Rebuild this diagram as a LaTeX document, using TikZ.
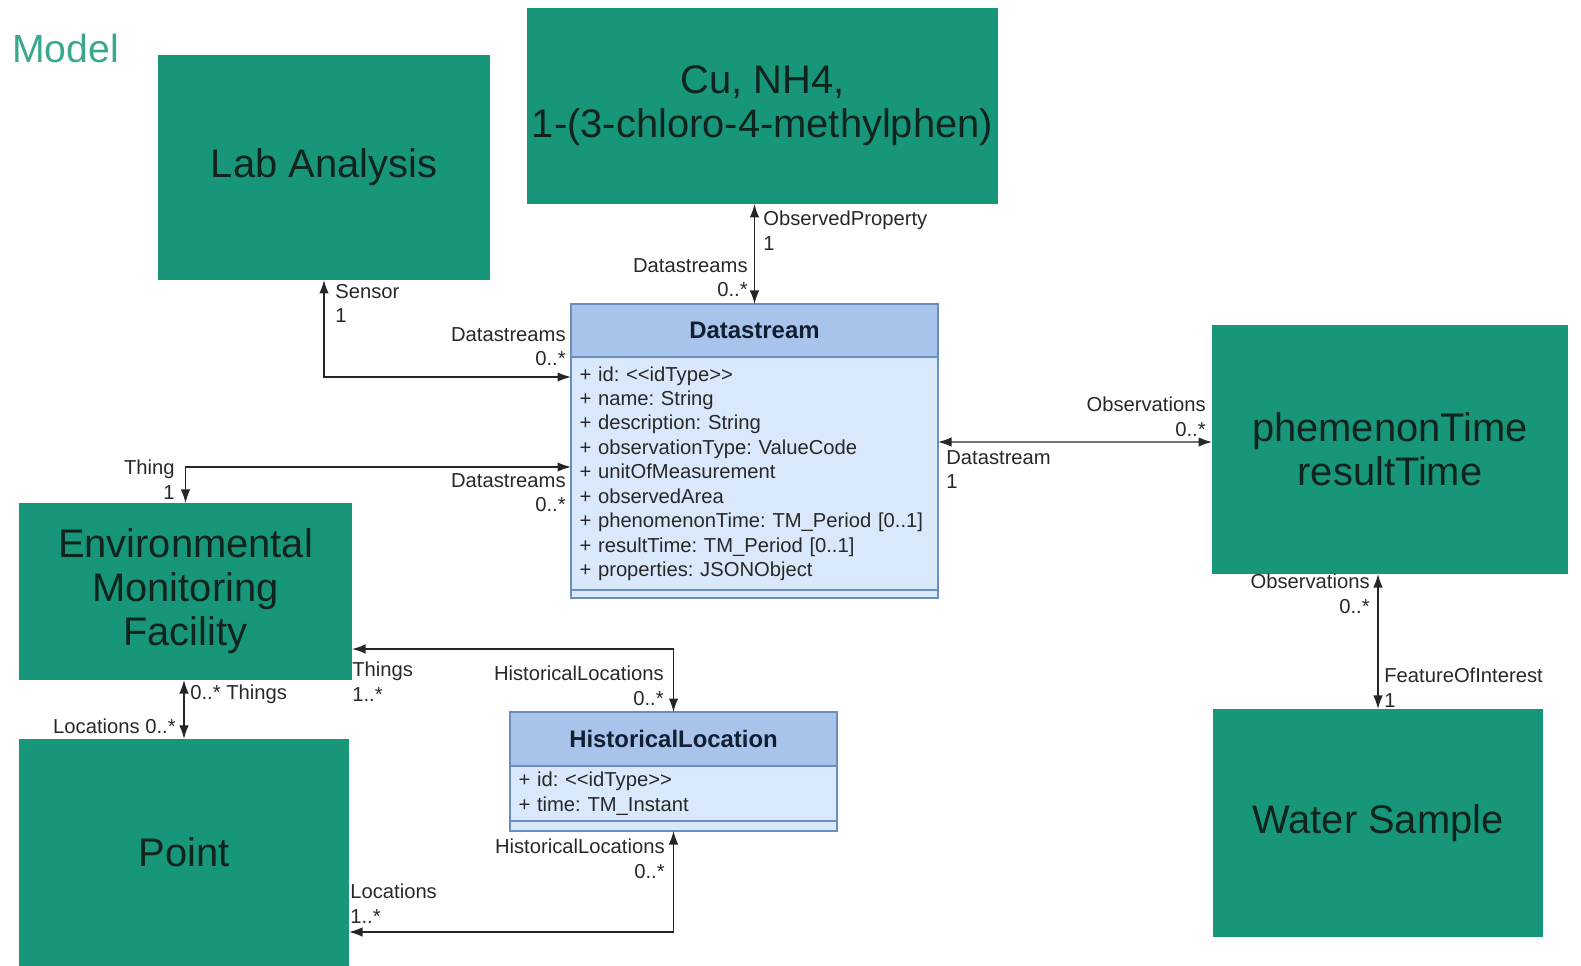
\documentclass[tikz,border=0pt]{standalone}
\usepackage{fontspec}
\setmainfont{Liberation Sans}
\usetikzlibrary{shapes,arrows.meta,positioning}
\definecolor{teal1}{RGB}{24,150,122}
\definecolor{tealtext}{RGB}{14,36,28}
\definecolor{modeltext}{RGB}{58,168,142}
\definecolor{headfill}{RGB}{169,196,235}
\definecolor{bodyfill}{RGB}{218,232,252}
\definecolor{classline}{RGB}{108,142,191}
\definecolor{headtext}{RGB}{18,30,50}
\definecolor{attrtext}{RGB}{40,40,40}
\tikzstyle{tealblock}=[rectangle, fill=teal1, text=tealtext, align=center, font=\fontsize{22.7}{25}\selectfont, inner sep=0pt, outer sep=0pt]
\tikzstyle{classhead}=[rectangle, draw=classline, line width=0.8pt, fill=headfill, text=headtext, inner sep=0pt, outer sep=0pt, font=\fontsize{13.6}{16}\selectfont\bfseries]
\tikzstyle{classbody}=[rectangle, draw=classline, line width=0.8pt, fill=bodyfill, text=attrtext, align=left, inner xsep=1.7mm, inner ysep=0pt, outer sep=0pt, font=\fontsize{11.5}{13.9}\selectfont]
\tikzstyle{classfoot}=[rectangle, draw=classline, line width=0.8pt, fill=bodyfill, inner sep=0pt, outer sep=0pt]
\tikzstyle{lbl}=[inner sep=0pt, text=attrtext, align=left, anchor=north west, font=\fontsize{11.5}{13.9}\selectfont]
\tikzstyle{lblr}=[inner sep=0pt, text=attrtext, align=right, anchor=north east, font=\fontsize{11.5}{13.9}\selectfont]
\tikzstyle{assoc}=[line width=0.8pt, draw=black!85]
\frenchspacing

\begin{document}
\begin{tikzpicture}[x=0.2mm, y=-0.2mm, >={Latex[length=2.7mm,width=1.9mm]}]
\useasboundingbox (0,0) rectangle (1581,966);

\node[anchor=base west, inner sep=0pt, text=modeltext, font=\fontsize{22.3}{25}\selectfont] (title) at (12,63) {Model};

\node[tealblock, minimum width=66.4mm, minimum height=45mm] (lab) at (324,167.5) {Lab Analysis};
\node[tealblock, minimum width=94.2mm, minimum height=39.2mm] (cu) at (762.5,106) {Cu, NH4,\\1-(3-chloro-4-methylphen)};
\node[tealblock, minimum width=71.2mm, minimum height=49.8mm] (phem) at (1390,449.5) {phemenonTime\\resultTime};
\node[tealblock, minimum width=66.6mm, minimum height=35.4mm] (emf) at (185.5,591.5) {Environmental\\Monitoring\\Facility};
\node[tealblock, minimum width=66mm, minimum height=45.4mm] (point) at (184,852.5) {Point};
\node[tealblock, minimum width=66mm, minimum height=45.6mm] (ws) at (1378,823) {Water Sample};

\node[classhead, minimum width=73.4mm, minimum height=10.6mm] (ds) at (754.5,330.5) {Datastream};
\node[classbody, text width=70mm, minimum height=46.6mm, below=0pt of ds] (ds-attr) {+ id: <{}<idType>{}>\\+ name: String\\+ description: String\\+ observationType: ValueCode\\+ unitOfMeasurement\\+ observedArea\\+ phenomenonTime: TM\_Period [0..1]\\+ resultTime: TM\_Period [0..1]\\+ properties: JSONObject};
\node[classfoot, minimum width=73.4mm, minimum height=1.6mm, below=0pt of ds-attr] (ds-foot) {};

\node[classhead, minimum width=65.4mm, minimum height=10.8mm] (hl) at (673.5,739) {HistoricalLocation};
\node[classbody, text width=62mm, minimum height=11mm, below=0pt of hl] (hl-attr) {+ id: <{}<idType>{}>\\+ time: TM\_Instant};
\node[classfoot, minimum width=65.4mm, minimum height=2mm, below=0pt of hl-attr] (hl-foot) {};

\draw[<->,assoc] (lab.south) |- ([yshift=-4mm]ds-attr.north west);
\draw[<->,assoc] (cu.south -| ds.north) -- (ds.north);
\draw[<->,assoc] ([yshift=6.3mm]ds-attr.east) -- ([yshift=1.5mm]phem.west);
\draw[<->,assoc] (emf.north) |- ([yshift=-22mm]ds-attr.north west);
\draw[<->,assoc] ([yshift=-11.5mm]emf.east) -| (hl.north);
\draw[<->,assoc] (emf.south -| point.north) -- (point.north);
\draw[<->,assoc] ([yshift=-15.9mm]point.east) -| (hl-foot.south);
\draw[<->,assoc] (phem.south -| ws.north) -- (ws.north);

%labels
\node[lbl] (l-sensor) at (335,284) {Sensor\\1};
\node[lblr] (l-ds1) at (566,327) {Datastreams\\0..*};
\node[lbl] (l-op) at (763,211) {ObservedProperty\\1};
\node[lblr] (l-ds2) at (748,258) {Datastreams\\0..*};
\node[lblr] (l-obs1) at (1206,397) {Observations\\0..*};
\node[lbl] (l-ds3) at (946,450) {Datastream\\1};
\node[lblr] (l-thing) at (175,460) {Thing\\1};
\node[lblr] (l-ds4) at (566,473) {Datastreams\\0..*};
\node[lbl] (l-things1) at (352,662) {Things\\1..*};
\node[lblr] (l-hl1) at (664,666) {HistoricalLocations\\0..*};
\node[lbl] (l-things2) at (190,685) {0..* Things};
\node[lblr] (l-loc1) at (176,719) {Locations 0..*};
\node[lbl] (l-loc2) at (350,884) {Locations\\1..*};
\node[lblr] (l-hl2) at (665,839) {HistoricalLocations\\0..*};
\node[lblr] (l-obs2) at (1370,574) {Observations\\0..*};
\node[lbl] (l-foi) at (1384,668) {FeatureOfInterest\\1};

\end{tikzpicture}
\end{document}
